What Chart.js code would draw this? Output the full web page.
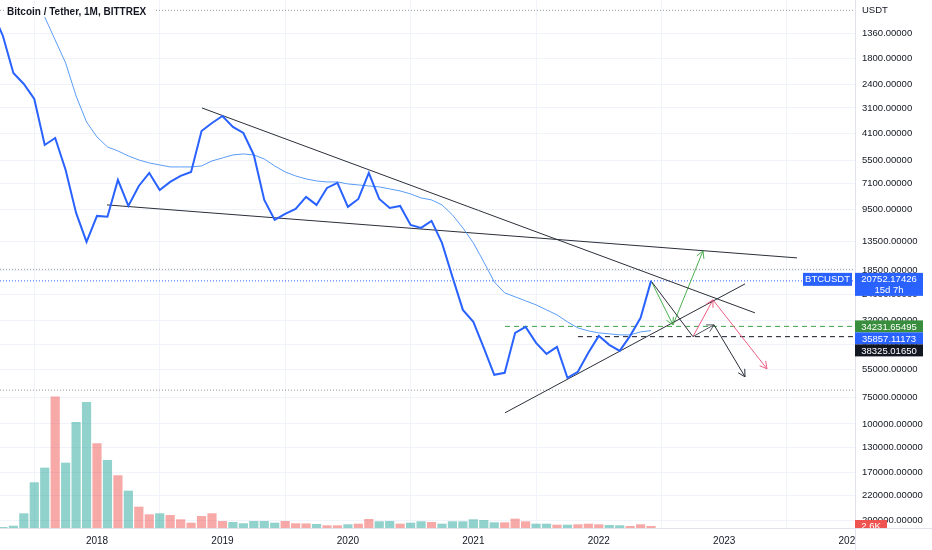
<!DOCTYPE html>
<html>
<head>
<meta charset="utf-8">
<title>Bitcoin / Tether, 1M, BITTREX</title>
<script src="https://cdn.jsdelivr.net/npm/chart.js@4.4.0/dist/chart.umd.min.js"></script>
<style>
  html, body { margin: 0; padding: 0; background: #fff; }
</style>
</head>
<body>
<canvas id="btcChart" width="932" height="550"></canvas>
<script>
const FONT = "'Liberation Sans', Arial, sans-serif";

// x values are months counted from Jan 2017 (2018-01 -> 12)
const firstMonth = '2017-03';
const closes = [1080, 1405, 2111, 2382, 2809, 4657, 4312, 6130, 9830, 13520,
  10160, 10250, 6841, 9104, 7307, 6335, 7635, 6993, 6547, 6265, 3993, 3657,
  3386, 3821, 4081, 5198, 8523, 10616, 9939, 9408, 8246, 9003, 7469, 7071,
  9203, 8429, 6335, 8429, 9307, 9104, 11216, 11593, 10733, 13670,
  19860, 28550, 32580, 43340, 58300, 57040, 36750, 34410, 41030, 46310, 42870, 60260, 56410, 45790,
  37990, 41930, 44790, 37990, 31170, 20752.17426];

const maFirstMonth = '2017-08';
const maValues = [1141, 1469, 1891, 2718, 3617, 4265, 4760, 4974, 5255, 5491,
  5675, 5801, 5930, 5930, 5930, 5865, 5552, 5371, 5198, 5141, 5198, 5431,
  5865, 6265, 6547, 6766, 6917, 6993, 6993, 7148, 7227, 7307, 7388, 7552,
  7721, 7979, 8338, 8523, 9003, 10049, 11593, 13670, 16844, 20985, 23680,
  24740, 25850, 27020, 28550, 30150, 32580, 34790, 35960, 36750, 37160,
  37580, 37580, 36360, 35857.11173];

// monthly volume, thousands
const volumes = [0.6, 1.3, 3.0, 19.1, 59.4, 78.4, 170.7, 84.9, 137.8, 163.8,
  110.1, 88.4, 68.5, 48.5, 27.7, 17.8, 19.1, 16.9, 11.3, 6.9, 15.6, 19.1,
  9.1, 7.8, 6.1, 9.1, 9.1, 6.9, 9.1, 6.1, 5.9, 5.2, 3.5, 3.5, 4.8, 5.6,
  11.7, 8.7, 9.1, 5.6, 6.9, 8.7, 7.8, 5.6, 8.7, 8.7, 11.3, 10.4, 7.4, 7.4,
  12.1, 8.7, 5.6, 5.6, 4.3, 4.3, 4.8, 5.6, 4.8, 3.9, 3.5, 2.6, 4.8, 2.6];

const priceTicks = [1360, 1800, 2400, 3100, 4100, 5500, 7100, 9500, 13500,
  18500, 24000, 32000, 42000, 55000, 75000, 100000, 130000, 170000, 220000, 290000];
const yearTicks = [2018, 2019, 2020, 2021, 2022, 2023, 2024];

// drawings: [month, price]
const upperTrend = [[22.04, 3100], [74.94, 29500]];
const flatTrend = [[12.96, 9003], [78.96, 16120]];
const risingTrend = [[51.03, 88520], [73.99, 21450]];
const greenArrows = [[[65, 20752.17], [67.1, 33660]], [[67.1, 33660], [69.97, 14930]]];
const pinkArrows = [[[69.01, 38325], [70.92, 25570]], [[70.92, 25570], [76.09, 54580]]];
const blackPath = [[65, 20752.17], [69.01, 38325]];
const grayArrow = [[69.01, 38325], [71.02, 33660]];
const blackArrow = [[71.02, 33660], [73.99, 59600]];

const lastPrice = 20752.17426;
const maLast = 35857.11173;
const greenLevel = 34231.65495;
const blackLevel = 38325.01650;
const greenFrom = 51.03;
const blackFrom = 58.01;
const rangeLevels = [1060, 18280, 69000];

const xMin = 2.721, xMax = 84.51;

function monthNum(s) {
  const [y, m] = s.split('-').map(Number);
  return (y - 2017) * 12 + (m - 1);
}
function series(start, values) {
  const m0 = monthNum(start);
  return values.map((v, i) => ({ x: m0 + i, y: v }));
}
function pts(list) { return list.map(p => ({ x: p[0], y: p[1] })); }
function seg(data, color, extra) {
  return Object.assign({ type: 'line', data: data, borderColor: color, borderWidth: 1,
    pointRadius: 0, yAxisID: 'y', order: 1 }, extra || {});
}

const volColors = closes.map((c, i) => (i === 0 || c >= closes[i - 1])
  ? 'rgba(38,166,154,0.5)' : 'rgba(239,83,80,0.5)');

const datasets = [
  seg(series(firstMonth, closes), '#2962ff', { borderWidth: 2, order: 0 }),
  seg(series(maFirstMonth, maValues), '#5b9cf6'),
  seg(pts(upperTrend), '#2a2e39'),
  seg(pts(flatTrend), '#2a2e39'),
  seg(pts(risingTrend), '#2a2e39'),
  seg(pts(blackPath), '#2a2e39'),
  seg(pts(grayArrow), '#50535e', { arrowHead: true }),
  seg(pts(blackArrow), '#2a2e39', { arrowHead: true })
];
greenArrows.forEach(a => datasets.push(seg(pts(a), '#4caf50', { arrowHead: true })));
pinkArrows.forEach(a => datasets.push(seg(pts(a), '#ef5f84', { arrowHead: true })));
datasets.push(seg([{ x: greenFrom, y: greenLevel }, { x: xMax, y: greenLevel }], '#43a047', { borderDash: [5, 4] }));
datasets.push(seg([{ x: blackFrom, y: blackLevel }, { x: xMax, y: blackLevel }], '#131722', { borderDash: [5, 4] }));
rangeLevels.forEach(v => datasets.push(seg([{ x: xMin, y: v }, { x: xMax, y: v }], '#9598a1', { borderDash: [1, 2], order: 2 })));
datasets.push(seg([{ x: xMin, y: lastPrice }, { x: xMax, y: lastPrice }], '#2962ff', { borderDash: [1, 2], order: 2 }));
datasets.push({
  type: 'bar', data: series(firstMonth, volumes), backgroundColor: volColors,
  yAxisID: 'vol', order: 10, barPercentage: 0.88, categoryPercentage: 1
});

const arrowHeads = {
  id: 'arrowHeads',
  afterDatasetsDraw(chart) {
    const ctx = chart.ctx;
    chart.data.datasets.forEach((ds, i) => {
      if (!ds.arrowHead) return;
      const el = chart.getDatasetMeta(i).data;
      const a = el[el.length - 2], b = el[el.length - 1];
      const ang = Math.atan2(b.y - a.y, b.x - a.x);
      ctx.save();
      ctx.strokeStyle = ds.borderColor;
      ctx.lineWidth = 1;
      ctx.beginPath();
      [-1, 1].forEach(s => {
        ctx.moveTo(b.x, b.y);
        ctx.lineTo(b.x - 8 * Math.cos(ang + s * 0.5), b.y - 8 * Math.sin(ang + s * 0.5));
      });
      ctx.stroke();
      ctx.restore();
    });
  }
};

function box(ctx, x, top, w, h, bg, lines) {
  ctx.fillStyle = bg;
  ctx.fillRect(x, top, w, h);
  ctx.fillStyle = '#fff';
  ctx.textAlign = 'center';
  ctx.textBaseline = 'middle';
  lines.forEach(l => ctx.fillText(l[0], x + w / 2, l[1]));
}

const decorations = {
  id: 'decorations',
  afterDraw(chart) {
    const ctx = chart.ctx;
    const area = chart.chartArea;
    const y = chart.scales.y;
    const vol = chart.scales.vol;
    ctx.save();
    // clip time axis under the price scale
    ctx.fillStyle = '#fff';
    ctx.fillRect(area.right, area.bottom, chart.width - area.right, chart.height - area.bottom);
    ctx.strokeStyle = '#e0e3eb';
    ctx.lineWidth = 1;
    ctx.beginPath();
    ctx.moveTo(area.right + 0.5, 0);
    ctx.lineTo(area.right + 0.5, chart.height);
    ctx.moveTo(0, area.bottom + 0.5);
    ctx.lineTo(chart.width, area.bottom + 0.5);
    ctx.stroke();

    // title
    ctx.fillStyle = '#fff';
    ctx.fillRect(4, 5, 152, 12);
    ctx.fillStyle = '#131722';
    ctx.font = 'bold 10px ' + FONT;
    ctx.textAlign = 'left';
    ctx.textBaseline = 'middle';
    ctx.fillText('Bitcoin / Tether, 1M, BITTREX', 7, 12.5);
    ctx.font = '9.5px ' + FONT;
    ctx.fillText('USDT', area.right + 7, 10);

    // last price tags
    const x0 = area.right, w = 68;
    const yp = y.getPixelForValue(lastPrice);
    box(ctx, 803, yp - 8, 49, 13, '#2962ff', [['BTCUSDT', yp - 1.5]]);
    box(ctx, x0, yp - 8, w, 23, '#2962ff', [[lastPrice.toFixed(5), yp - 1.5], ['15d 7h', yp + 10]]);

    // stacked level tags
    const tags = [
      [greenLevel, '#388e3c'], [maLast, '#2962ff'], [blackLevel, '#131722']
    ].map(t => ({ v: t[0], c: t[1], py: y.getPixelForValue(t[0]) })).sort((a, b) => a.py - b.py);
    let bottom = -Infinity;
    tags.forEach(t => {
      const top = Math.max(t.py - 6, bottom);
      box(ctx, x0, top, w, 12, t.c, [[t.v.toFixed(5), top + 6.5]]);
      bottom = top + 12;
    });

    // volume tag
    const lastVol = volumes[volumes.length - 1];
    const yv = vol.getPixelForValue(lastVol);
    ctx.beginPath();
    ctx.rect(x0, 0, 40, area.bottom);
    ctx.clip();
    box(ctx, x0, yv - 6, 32, 13, '#ef5350', [[lastVol.toFixed(1) + 'K', yv + 0.5]]);
    ctx.restore();
  }
};

new Chart(document.getElementById('btcChart'), {
  data: { datasets: datasets },
  options: {
    responsive: false,
    animation: false,
    events: [],
    layout: { padding: 0 },
    plugins: { legend: { display: false }, tooltip: { enabled: false } },
    scales: {
      x: {
        type: 'linear', min: xMin, max: xMax, offset: false,
        grid: { color: '#f0f3fa', drawTicks: false },
        border: { display: false },
        ticks: {
          padding: 7, color: '#131722', autoSkip: false, maxRotation: 0,
          font: { family: FONT, size: 10 },
          callback: v => String(2017 + v / 12)
        },
        afterBuildTicks: s => { s.ticks = yearTicks.map(yr => ({ value: (yr - 2017) * 12 })); },
        afterFit: s => { s.height = 22; s.paddingLeft = 0; s.paddingRight = 0; }
      },
      y: {
        type: 'logarithmic', position: 'right', reverse: true, min: 946.1, max: 314130,
        grid: { color: '#f0f3fa', drawTicks: false },
        border: { display: false },
        ticks: {
          padding: 7, color: '#131722', autoSkip: false,
          font: { family: FONT, size: 9.5 },
          callback: v => Number(v).toFixed(5)
        },
        afterBuildTicks: s => { s.ticks = priceTicks.map(v => ({ value: v })); },
        afterFit: s => { s.width = 77; s.paddingTop = 0; s.paddingBottom = 0; }
      },
      vol: { type: 'linear', display: false, min: 0, max: 686 }
    }
  },
  plugins: [arrowHeads, decorations]
});
</script>
</body>
</html>
